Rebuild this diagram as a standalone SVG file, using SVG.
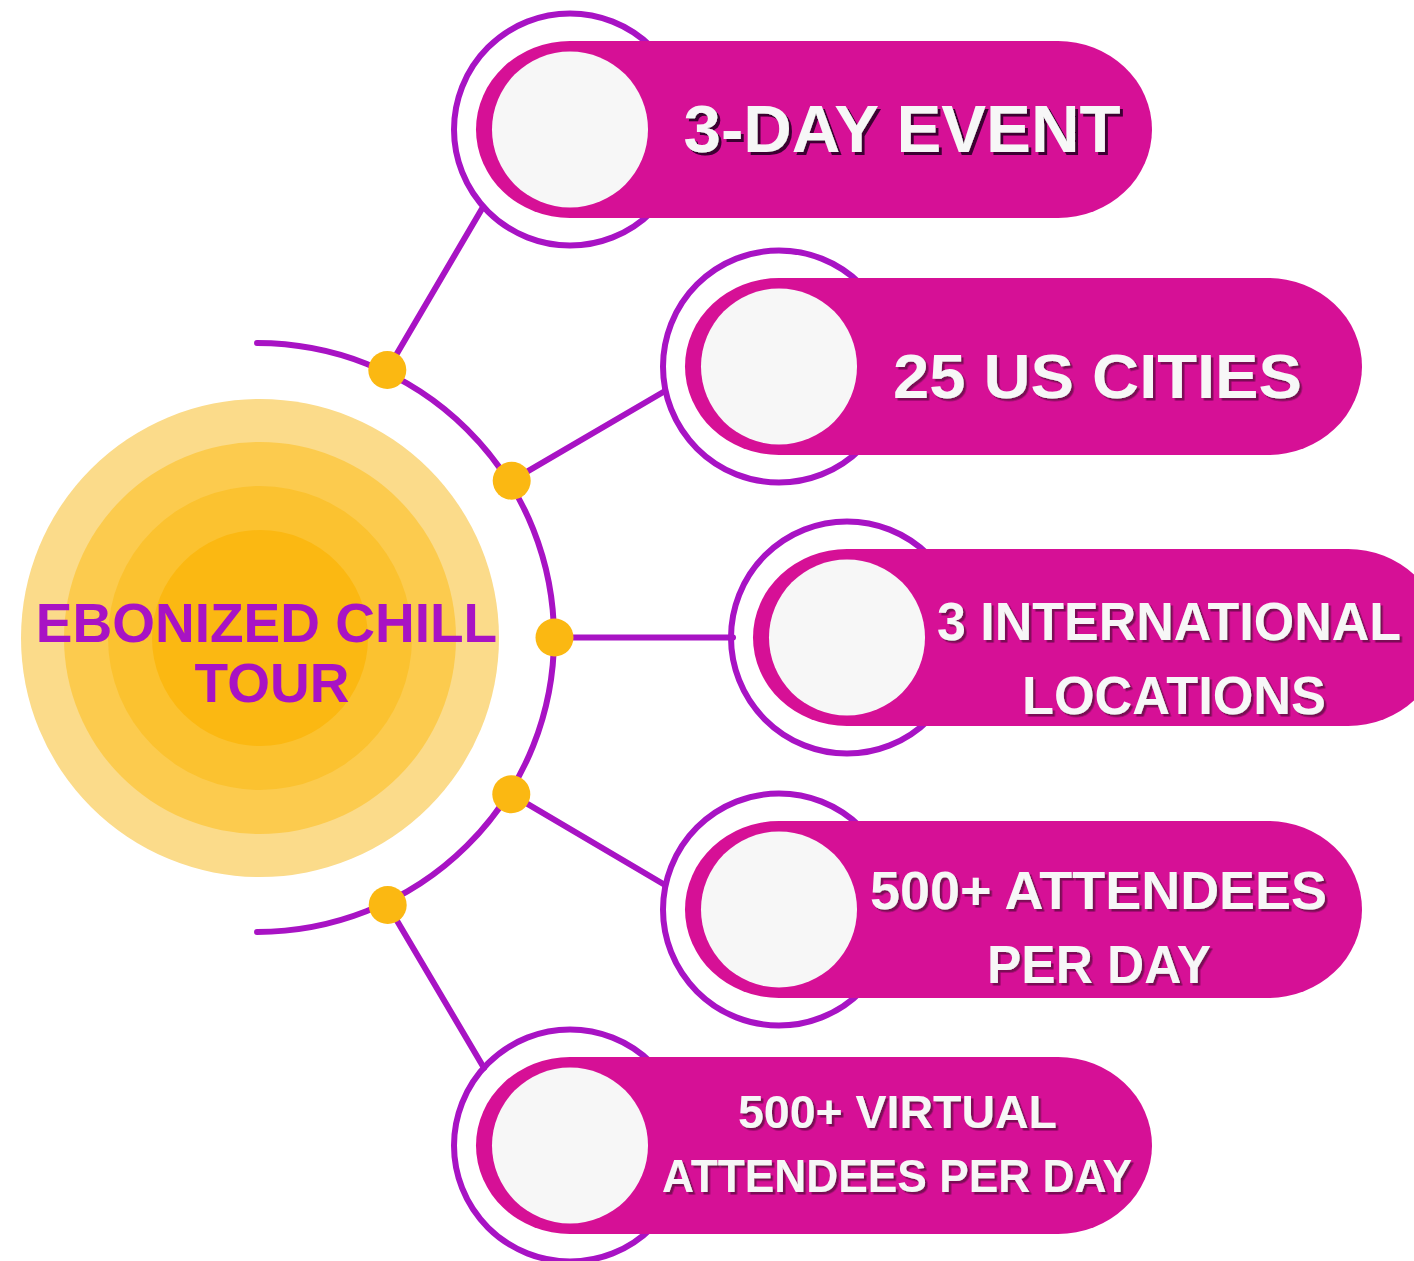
<svg xmlns="http://www.w3.org/2000/svg" width="1414" height="1261" viewBox="0 0 1414 1261">
  <defs>
    <style>
      .ring { fill: none; stroke: #a813c4; stroke-width: 6; }
      .pill { fill: #d61096; }
      .face { fill: #f7f7f7; }
      .link { fill: none; stroke: #a813c4; stroke-width: 6; stroke-linecap: round; }
      .dot { fill: #fbb812; }
      .label { font-family: "Liberation Sans", Arial, sans-serif; font-weight: bold; fill: #f7f7f7; text-anchor: middle; }
      .title { font-family: "Liberation Sans", Arial, sans-serif; font-weight: bold; fill: #a813c4; text-anchor: middle; font-size: 55px; }
    </style>
    <filter id="shadowDark" x="-5%" y="-20%" width="110%" height="140%">
      <feDropShadow dx="3" dy="3" stdDeviation="0" flood-color="#3d0033" flood-opacity="1"/>
    </filter>
    <filter id="shadowSoft" x="-5%" y="-20%" width="110%" height="140%">
      <feDropShadow dx="2.5" dy="2.5" stdDeviation="0" flood-color="#7a0a55" flood-opacity="1"/>
    </filter>
  </defs>

  <rect width="1414" height="1261" fill="#ffffff"/>

  <!-- central sun -->
  <g id="hub">
    <circle cx="260" cy="638" r="239" fill="#fbdb8a"/>
    <circle cx="260" cy="638" r="196" fill="#fccb4e"/>
    <circle cx="260" cy="638" r="152" fill="#fbc230"/>
    <circle cx="260" cy="638" r="108" fill="#fbb812"/>
    <text class="title" x="266.5" y="642">EBONIZED CHILL</text>
    <text class="title" x="272" y="702">TOUR</text>
  </g>

  <!-- arc and spokes -->
  <g id="connectors">
    <path class="link" d="M 257 343 A 297 294.5 0 0 1 257 932"/>
    <line class="link" x1="387.3" y1="370" x2="483" y2="207"/>
    <line class="link" x1="511.7" y1="480.7" x2="665" y2="391"/>
    <line class="link" x1="554.5" y1="637.5" x2="733" y2="637.5"/>
    <line class="link" x1="511.3" y1="794.3" x2="665" y2="885"/>
    <line class="link" x1="387.7" y1="905" x2="484" y2="1068"/>
    <circle class="dot" cx="387.3" cy="370" r="19"/>
    <circle class="dot" cx="511.7" cy="480.7" r="19"/>
    <circle class="dot" cx="554.5" cy="637.5" r="19"/>
    <circle class="dot" cx="511.3" cy="794.3" r="19"/>
    <circle class="dot" cx="387.7" cy="905" r="19"/>
  </g>

  <g id="node-event">
    <circle class="ring" cx="570" cy="129.5" r="116"/>
    <rect class="pill" x="476" y="41" width="676" height="177" rx="94" ry="88.5"/>
    <circle class="face" cx="570" cy="129.5" r="78"/>
    <text class="label" x="902" y="152" font-size="66" textLength="437" lengthAdjust="spacingAndGlyphs" filter="url(#shadowDark)">3-DAY EVENT</text>
  </g>

  <g id="node-cities">
    <circle class="ring" cx="779" cy="366.5" r="116"/>
    <rect class="pill" x="685" y="278" width="677" height="177" rx="94" ry="88.5"/>
    <circle class="face" cx="779" cy="366.5" r="78"/>
    <text class="label" x="1097.5" y="398" font-size="63" textLength="409" lengthAdjust="spacingAndGlyphs" filter="url(#shadowSoft)">25 US CITIES</text>
  </g>

  <g id="node-international">
    <circle class="ring" cx="847" cy="637.5" r="116"/>
    <rect class="pill" x="753" y="549" width="689" height="177" rx="94" ry="88.5"/>
    <circle class="face" cx="847" cy="637.5" r="78"/>
    <g filter="url(#shadowSoft)">
      <text class="label" x="1169" y="640" font-size="53" textLength="464" lengthAdjust="spacingAndGlyphs">3 INTERNATIONAL</text>
      <text class="label" x="1174" y="714" font-size="54" textLength="304" lengthAdjust="spacingAndGlyphs">LOCATIONS</text>
    </g>
  </g>

  <g id="node-attendees">
    <circle class="ring" cx="779" cy="909.5" r="116"/>
    <rect class="pill" x="685" y="821" width="677" height="177" rx="94" ry="88.5"/>
    <circle class="face" cx="779" cy="909.5" r="78"/>
    <g filter="url(#shadowSoft)">
      <text class="label" x="1098.5" y="909" font-size="53" textLength="457" lengthAdjust="spacingAndGlyphs">500+ ATTENDEES</text>
      <text class="label" x="1099" y="983" font-size="53" textLength="224" lengthAdjust="spacingAndGlyphs">PER DAY</text>
    </g>
  </g>

  <g id="node-virtual">
    <circle class="ring" cx="570" cy="1145.5" r="116"/>
    <rect class="pill" x="476" y="1057" width="676" height="177" rx="94" ry="88.5"/>
    <circle class="face" cx="570" cy="1145.5" r="78"/>
    <g filter="url(#shadowSoft)">
      <text class="label" x="897.5" y="1128" font-size="46" textLength="319" lengthAdjust="spacingAndGlyphs">500+ VIRTUAL</text>
      <text class="label" x="897" y="1192" font-size="46" textLength="470" lengthAdjust="spacingAndGlyphs">ATTENDEES PER DAY</text>
    </g>
  </g>
</svg>
